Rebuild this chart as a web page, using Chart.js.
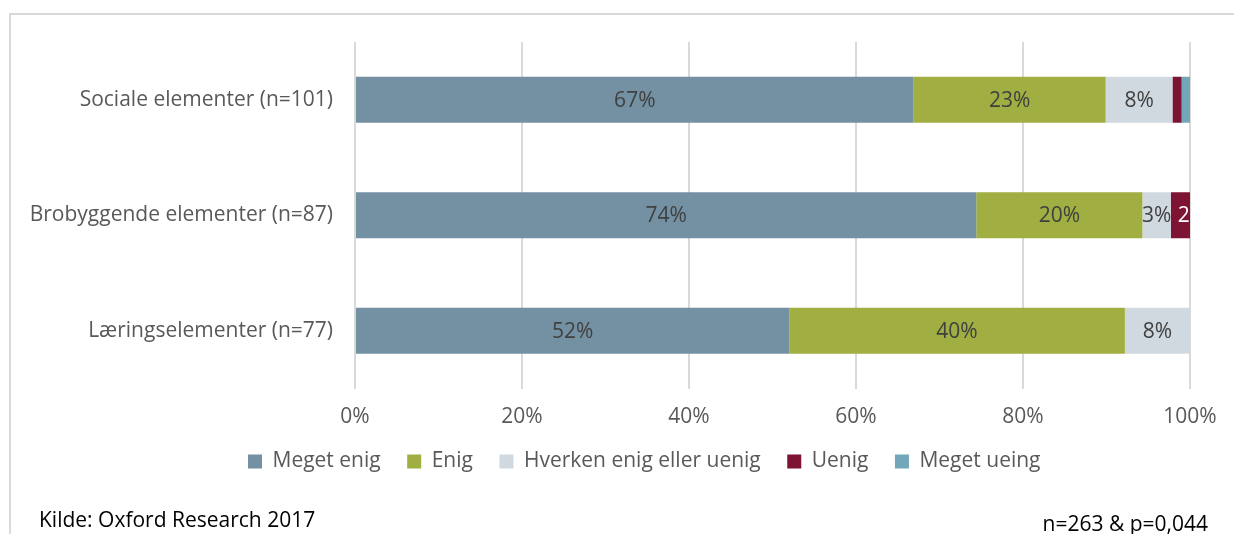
<!DOCTYPE html>
<html>
<head>
<meta charset="utf-8">
<script src="https://cdn.jsdelivr.net/npm/chart.js@4/dist/chart.umd.min.js"></script>
<style>
html,body{margin:0;padding:0;background:#fff;}
#wrap{width:1234px;height:534px;position:relative;}
</style>
</head>
<body>
<div id="wrap"><canvas id="c" width="1234" height="534"></canvas></div>
<script>
const categories = ["Sociale elementer (n=101)", "Brobyggende elementer (n=87)", "Læringselementer (n=77)"];
const seriesNames = ["Meget enig", "Enig", "Hverken enig eller uenig", "Uenig", "Meget ueing"];
const megetEnig = [66.9, 74.4, 52.0];
const enig = [23.0, 19.9, 40.2];
const hverken = [8.0, 3.4, 7.8];
const uenig = [1.1, 2.3, 0];
const megetUeing = [1.0, 0, 0];
const xTicks = [0, 20, 40, 60, 80, 100];
const sourceText = "Kilde: Oxford Research 2017";
const noteText = "n=263 & p=0,044";

const colors = ["#7391A3", "#A1AE42", "#D1D9E0", "#7D1434", "#72A7B9"];
const labelColors = ["#404040", "#404040", "#404040", "#FFFFFF", "#404040"];
const FONT = "'Open Sans', sans-serif";
const FS = 21;
const LEG_PAD = 26.5;
const LEG_START = 248;

const seriesValues = [megetEnig, enig, hverken, uenig, megetUeing];

const labelPlugin = {
  id: 'segLabels',
  afterDatasetsDraw(chart) {
    const ctx = chart.ctx;
    const area = chart.chartArea;
    ctx.save();
    ctx.beginPath();
    ctx.rect(area.left, area.top, area.right - area.left, area.bottom - area.top);
    ctx.clip();
    ctx.font = FS + "px " + FONT;
    ctx.textBaseline = "middle";
    chart.data.datasets.forEach((ds, di) => {
      const meta = chart.getDatasetMeta(di);
      meta.data.forEach((bar, i) => {
        const v = ds.data[i];
        if (v < 2) return;
        const p = bar.getProps(['x', 'y', 'base'], true);
        const txt = Math.round(v) + "%";
        const w = ctx.measureText(txt).width;
        const segW = Math.abs(p.x - p.base);
        ctx.fillStyle = labelColors[di];
        if (w > segW + 4) {
          ctx.textAlign = "left";
          ctx.fillText(txt, Math.min(p.x, p.base) + 7, p.y + 1);
        } else {
          ctx.textAlign = "center";
          ctx.fillText(txt, (p.x + p.base) / 2, p.y + 1);
        }
      });
    });
    ctx.restore();
  }
};

const legendShift = {
  id: 'legendShift',
  afterLayout(chart) {
    const lg = chart.legend;
    if (!lg || !lg.lineWidths) return;
    const start = (lg.left + LEG_PAD + lg.right - lg.lineWidths[0]) / 2;
    const d = LEG_START - start;
    lg.left += d;
    lg.right += d;
  }
};

const framePlugin = {
  id: 'frame',
  beforeDraw(chart) {
    const ctx = chart.ctx;
    ctx.save();
    ctx.fillStyle = "#fff";
    ctx.fillRect(0, 0, chart.width, chart.height);
    ctx.strokeStyle = "#D9D9D9";
    ctx.lineWidth = 2;
    ctx.beginPath();
    ctx.moveTo(10, 534);
    ctx.lineTo(10, 14);
    ctx.lineTo(1234, 14);
    ctx.stroke();
    ctx.restore();
  },
  afterDraw(chart) {
    const ctx = chart.ctx;
    ctx.save();
    ctx.fillStyle = "#000";
    ctx.font = FS + "px " + FONT;
    ctx.textBaseline = "middle";
    ctx.textAlign = "left";
    ctx.fillText(sourceText, 39, 521);
    ctx.textAlign = "right";
    ctx.fillText(noteText, 1208, 525);
    ctx.restore();
  }
};

new Chart(document.getElementById('c'), {
  type: 'bar',
  data: {
    labels: categories,
    datasets: seriesNames.map((n, i) => ({
      label: n,
      data: seriesValues[i],
      backgroundColor: colors[i],
      borderWidth: 0,
      barPercentage: 0.8,
      categoryPercentage: 0.5
    }))
  },
  options: {
    indexAxis: 'y',
    responsive: false,
    animation: false,
    devicePixelRatio: 1,
    layout: { padding: { left: 10, right: 44, top: 42, bottom: 52 } },
    scales: {
      x: {
        stacked: true,
        min: 0, max: 100,
        afterBuildTicks(scale) { scale.ticks = xTicks.map(v => ({ value: v })); },
        afterFit(scale) { scale.height = 36; },
        ticks: {
          callback: v => v + "%",
          color: "#595959",
          font: { family: FONT, size: FS },
          padding: 16
        },
        grid: { color: "#D9D9D9", lineWidth: 2, drawTicks: false },
        border: { display: false }
      },
      y: {
        stacked: true,
        afterFit(scale) { scale.width = 345; },
        ticks: {
          color: "#595959",
          font: { family: FONT, size: FS },
          padding: 22
        },
        grid: { display: false, drawTicks: false },
        border: { display: false }
      }
    },
    plugins: {
      legend: {
        position: 'bottom',
        labels: {
          boxWidth: 14,
          boxHeight: 14,
          color: "#595959",
          font: { family: FONT, size: FS },
          padding: LEG_PAD
        }
      },
      tooltip: { enabled: false }
    }
  },
  plugins: [labelPlugin, legendShift, framePlugin]
});
</script>
</body>
</html>
